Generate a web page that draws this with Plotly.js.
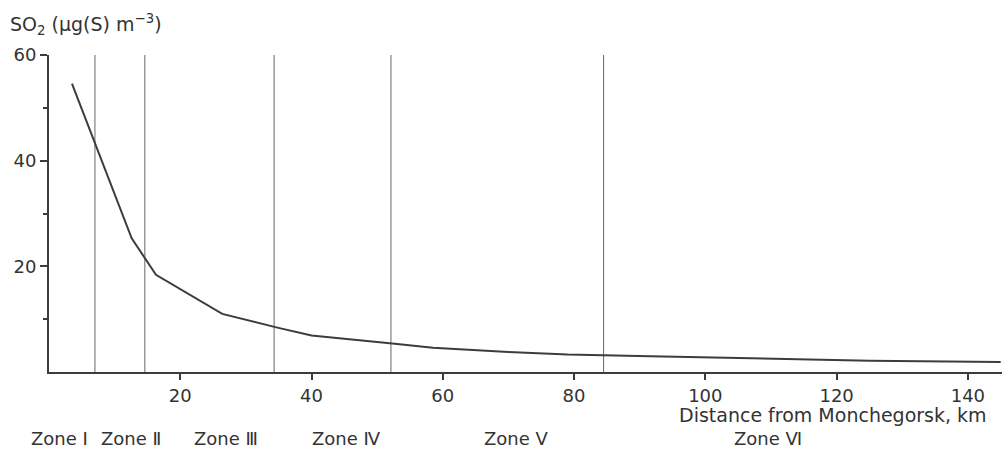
<!DOCTYPE html>
<html>
<head>
<meta charset="utf-8">
<script src="https://cdn.plot.ly/plotly-3.0.1.min.js"></script>
<style>html,body{margin:0;padding:0;background:#fff;}#chart{width:1002px;height:450px;}</style>
</head>
<body>
<div id="chart"></div>
<script>
// Distance from Monchegorsk (km) and SO2 concentration (µg(S) m^-3)
var distanceKm = [3.5, 12.6, 16.3, 26.4, 34.8, 40, 52.3, 58.5, 70, 79, 91.6, 100, 113.4, 125, 145];
var so2Values  = [54.6, 25.3, 18.4, 11.0, 8.4, 6.9, 5.4, 4.6, 3.8, 3.3, 3.0, 2.8, 2.4, 2.15, 1.9];

// Zone boundaries (km)
var zoneBoundaries = [7, 14.6, 34.3, 52.1, 84.5];
var zoneTop = 60;

// Zone labels and the distance (km) under which each label is centred
var zoneLabels = ["Zone Ⅰ", "Zone Ⅱ", "Zone Ⅲ", "Zone Ⅳ", "Zone Ⅴ", "Zone Ⅵ"];
var zoneLabelKm = [1.6, 12.5, 26.9, 45.4, 71.3, 109.5];

// Tick labels
var xTickVals = [20, 40, 60, 80, 100, 120, 140];
var yTickVals = [20, 40, 60];
var yMinorVals = [10, 30, 50];

var FONT = "DejaVu Sans, Liberation Sans, Arial, sans-serif";
var TXT = "#333333";
var LINE = "#3c3c3c";

var bx = [], by = [];
zoneBoundaries.forEach(function (b) { bx.push(b, b, null); by.push(0, zoneTop, null); });

var traces = [
  { x: bx, y: by, mode: "lines", line: { color: "#666666", width: 1 }, hoverinfo: "skip", showlegend: false },
  { x: distanceKm, y: so2Values, mode: "lines", line: { color: LINE, width: 2 }, showlegend: false }
];

var annotations = zoneLabels.map(function (t, i) {
  return { text: t, x: zoneLabelKm[i], xref: "x", y: 0, yref: "paper", yanchor: "middle", xanchor: "center",
           yshift: -66, borderpad: 0, showarrow: false, font: { family: FONT, size: 18, color: TXT } };
});
annotations.push({
  text: "Distance from Monchegorsk, km", x: 1, xref: "paper", xanchor: "right", xshift: -14,
  y: 0, yref: "paper", yanchor: "middle", yshift: -43, borderpad: 0, showarrow: false,
  font: { family: FONT, size: 19, color: TXT }
});

var layout = {
  width: 1002, height: 450,
  margin: { l: 49, r: 0, t: 55, b: 78 },
  paper_bgcolor: "#ffffff", plot_bgcolor: "#ffffff",
  font: { family: FONT, size: 18, color: TXT },
  title: { text: "SO<sub>2</sub> (μg(S) m<sup>−3</sup>)", xref: "container", x: 0.01, xanchor: "left",
           yref: "container", y: 0.945, yanchor: "middle", font: { family: FONT, size: 19, color: TXT } },
  showlegend: false,
  xaxis: {
    range: [0, 145.2], showgrid: false, zeroline: false, showline: true, linecolor: LINE, linewidth: 2,
    ticks: "outside", ticklen: 6, tickwidth: 2, tickcolor: LINE,
    tickmode: "array", tickvals: xTickVals, ticktext: xTickVals.map(String),
    ticklabelstandoff: 0,
    tickfont: { family: FONT, size: 18, color: TXT }
  },
  yaxis: {
    range: [0, 60], showgrid: false, zeroline: false, showline: true, linecolor: LINE, linewidth: 2,
    ticks: "outside", ticklen: 7, tickwidth: 2, tickcolor: LINE,
    tickmode: "array", tickvals: yTickVals, ticktext: yTickVals.map(String),
    tickfont: { family: FONT, size: 18, color: TXT },
    minor: { tickmode: "array", tickvals: yMinorVals, ticks: "outside", ticklen: 4, tickwidth: 2, tickcolor: LINE, showgrid: false }
  },
  annotations: annotations
};

Plotly.newPlot("chart", traces, layout, { staticPlot: true, displayModeBar: false });
</script>
</body>
</html>
